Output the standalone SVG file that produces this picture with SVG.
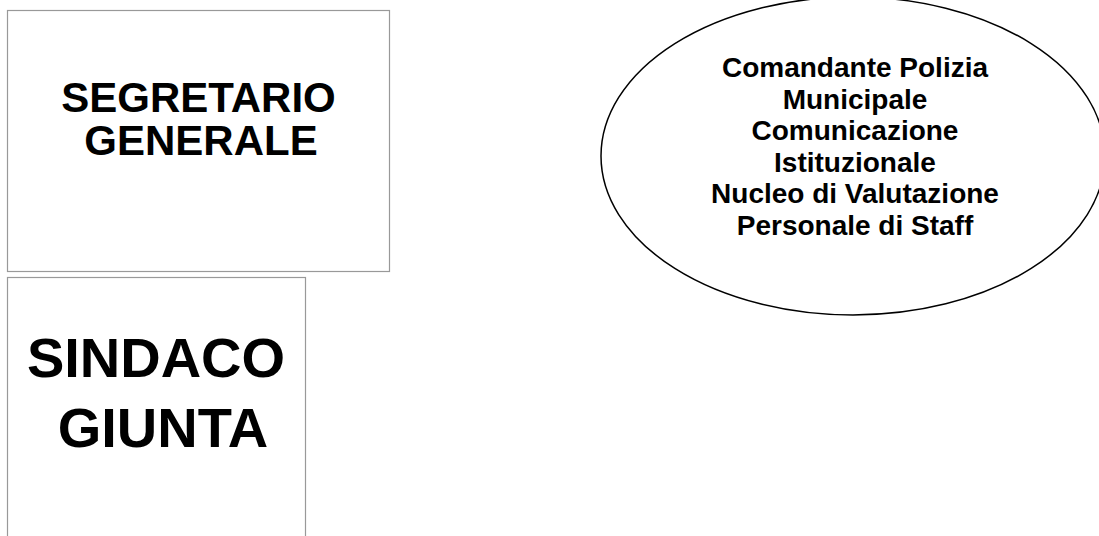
<svg xmlns="http://www.w3.org/2000/svg" width="1099" height="536" viewBox="0 0 1099 536">
<style>
.box{fill:#ffffff;stroke:#999999;stroke-width:1.2}
.ell{fill:#ffffff;stroke:#000000;stroke-width:1.5}
.t{font-family:"Liberation Sans",Arial,sans-serif;font-weight:bold;fill:#000000;text-anchor:middle}
</style>
<rect x="0" y="0" width="1099" height="536" fill="#ffffff"/>
<g id="segretario">
<rect class="box" x="7.5" y="10.5" width="382" height="261"/>
<text class="t" font-size="42" x="198.5" y="112">SEGRETARIO</text>
<text class="t" font-size="42" x="201" y="155">GENERALE</text>
</g>
<g id="sindaco">
<rect class="box" x="7.5" y="277.5" width="298" height="270"/>
<text class="t" font-size="56" x="156" y="377">SINDACO</text>
<text class="t" font-size="56" x="163" y="447">GIUNTA</text>
</g>
<g id="staff">
<ellipse class="ell" cx="853" cy="156" rx="252" ry="159"/>
<text class="t" font-size="28" x="855" y="77">Comandante Polizia</text>
<text class="t" font-size="28" x="855" y="108.5">Municipale</text>
<text class="t" font-size="28" x="855" y="140">Comunicazione</text>
<text class="t" font-size="28" x="855" y="171.5">Istituzionale</text>
<text class="t" font-size="28" x="855" y="203">Nucleo di Valutazione</text>
<text class="t" font-size="28" x="855" y="234.5">Personale di Staff</text>
</g>
<g id="connectors"/>
</svg>
